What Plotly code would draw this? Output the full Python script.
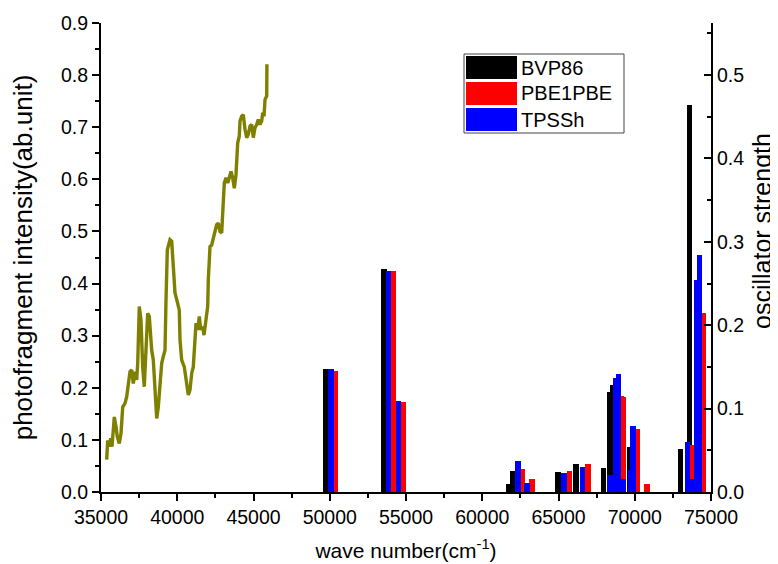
import plotly.graph_objects as go

# ---- photofragment spectrum (left axis) ----
spec_x = [35374, 35439, 35544, 35636, 35721, 35807, 35872, 35984, 36069, 36200,
          36311, 36423, 36574, 36685, 36790, 36902, 37013, 37118, 37230, 37341,
          37407, 37511, 37623, 37734, 37839, 37951, 38062, 38167, 38325, 38430,
          38541, 38653, 38757, 38869, 38980, 39085, 39197, 39262, 39348, 39525,
          39636, 39741, 39852, 40003, 40134, 40180, 40292, 40462, 40574, 40725,
          40836, 40948, 41052, 41118, 41230, 41341, 41446, 41538, 41669, 41754,
          41866, 41997, 42036, 42148, 42259, 42364, 42475, 42587, 42692, 42803,
          42915, 42980, 43085, 43197, 43308, 43413, 43525, 43636, 43741, 43852,
          43964, 44069, 44115, 44226, 44331, 44443, 44554, 44659, 44770, 44882,
          44987, 45098, 45210, 45315, 45426, 45538, 45603, 45689, 45754, 45866,
          45880]
spec_y = [0.062, 0.099, 0.087, 0.103, 0.087, 0.125, 0.144, 0.125, 0.106, 0.093,
          0.112, 0.163, 0.170, 0.183, 0.202, 0.231, 0.234, 0.208, 0.231, 0.215,
          0.247, 0.356, 0.330, 0.240, 0.202, 0.266, 0.343, 0.337, 0.272, 0.253,
          0.208, 0.141, 0.163, 0.215, 0.247, 0.260, 0.272, 0.368, 0.465, 0.484,
          0.481, 0.433, 0.382, 0.365, 0.349, 0.292, 0.253, 0.240, 0.221, 0.186,
          0.196, 0.228, 0.240, 0.285, 0.324, 0.311, 0.337, 0.311, 0.317, 0.301,
          0.330, 0.356, 0.407, 0.471, 0.474, 0.484, 0.500, 0.513, 0.516, 0.500,
          0.497, 0.535, 0.593, 0.603, 0.593, 0.603, 0.615, 0.603, 0.583, 0.609,
          0.670, 0.683, 0.712, 0.721, 0.724, 0.696, 0.680, 0.686, 0.702, 0.705,
          0.680, 0.699, 0.705, 0.715, 0.705, 0.712, 0.728, 0.721, 0.753, 0.760,
          0.821]

# ---- calculated oscillator strengths (right axis) ----
bvp86_x = [49750, 53550, 61750, 61970, 64960, 66140, 67940, 68370, 68530, 69685, 73010, 73600]
bvp86_f = [0.147, 0.267, 0.010, 0.025, 0.0237, 0.0333, 0.0288, 0.120, 0.128, 0.054, 0.052, 0.4636]

pbe_x = [50350, 54150, 54830, 62610, 63270, 65710, 66940, 69120, 69270, 70190, 70810, 73690, 74520]
pbe_f = [0.1454, 0.2655, 0.1074, 0.027, 0.015, 0.0249, 0.033, 0.115, 0.1135, 0.075, 0.0098, 0.056, 0.2145]

tpssh_x = [50080, 53850, 54520, 62340, 62950, 65360, 66560, 68390, 68750, 68940, 69260, 69750,
           69890, 73470, 73690, 74040, 74240]
tpssh_f = [0.147, 0.265, 0.1087, 0.037, 0.011, 0.0228, 0.0305, 0.020, 0.137, 0.141, 0.016, 0.026,
           0.079, 0.060, 0.015, 0.2545, 0.284]

series_names = ["BVP86", "PBE1PBE", "TPSSh"]
series_colors = ["#000000", "#FF0000", "#0000FF"]
x_ticks = [35000, 40000, 45000, 50000, 55000, 60000, 65000, 70000, 75000]

BAR_W = 360
FONT = "Liberation Sans, Arial, sans-serif"

fig = go.Figure()
fig.add_trace(go.Scatter(x=spec_x, y=spec_y, mode="lines",
                         line=dict(color="#808000", width=3.4), showlegend=False, yaxis="y"))
for xs, fs, name, col in [(bvp86_x, bvp86_f, series_names[0], series_colors[0]),
                          (pbe_x, pbe_f, series_names[1], series_colors[1]),
                          (tpssh_x, tpssh_f, series_names[2], series_colors[2])]:
    fig.add_trace(go.Bar(x=xs, y=fs, width=[BAR_W] * len(xs), name=name,
                         marker=dict(color=col, line=dict(width=0)),
                         yaxis="y2", showlegend=False))

# the page body has an 8 px margin, so the figure is drawn 8 px in from the corner
OFF = 8
PAGE_W, PAGE_H = 778, 564
W, H = PAGE_W - OFF, PAGE_H - OFF
# plot area in page pixels: x 101..711, y 23..492
L, T = 101 - OFF, 23 - OFF
R = W - (711 - OFF)
B = H - (492 - OFF)
PW, PH = W - L - R, H - T - B

def px(xp):  # page pixel -> paper x
    return (xp - OFF - L) / PW

def py(yp):  # page pixel -> paper y
    return (H - B - (yp - OFF)) / PH

shapes = [dict(type="rect", xref="paper", yref="paper", x0=px(464), x1=px(624),
               y0=py(133), y1=py(54), line=dict(color="#444444", width=1), fillcolor="white",
               layer="above")]
annotations = []
rows = [(56, 79), (82, 105), (108, 131)]
for (y0, y1), name, col in zip(rows, series_names, series_colors):
    shapes.append(dict(type="rect", xref="paper", yref="paper", x0=px(466), x1=px(517),
                       y0=py(y1), y1=py(y0), line=dict(width=0), fillcolor=col, layer="above"))
    annotations.append(dict(xref="paper", yref="paper", x=px(519), y=py((y0 + y1) / 2),
                            text=name, showarrow=False, xanchor="left", yanchor="middle",
                            font=dict(family=FONT, size=20, color="black")))
# right axis title
annotations.append(dict(xref="paper", yref="paper", x=px(762), y=py(231),
                        text="oscillator strength", textangle=-90, showarrow=False,
                        xanchor="center", yanchor="middle",
                        font=dict(family=FONT, size=25, color="black")))

fig.update_layout(
    width=W, height=H,
    margin=dict(l=L, r=R, t=T, b=B),
    paper_bgcolor="white", plot_bgcolor="white",
    barmode="overlay", bargap=0,
    font=dict(family=FONT, size=20, color="black"),
    shapes=shapes, annotations=annotations,
    xaxis=dict(range=[35000, 75000], tickvals=x_ticks, ticktext=[str(v) for v in x_ticks],
               automargin=False,
               showgrid=False, zeroline=False, showline=True, linecolor="black", linewidth=2,
               ticks="outside", ticklen=7, tickwidth=2, tickcolor="black",
               minor=dict(dtick=2500, ticks="outside", ticklen=4, tickwidth=1.5, tickcolor="black"),
               tickfont=dict(size=19.5),
               title=dict(text="wave number(cm<sup>-1</sup>)", font=dict(size=21), standoff=16)),
    yaxis=dict(range=[0, 0.9], dtick=0.1, tickformat=".1f", automargin=False,
               showgrid=False, zeroline=False, showline=True, linecolor="black", linewidth=2,
               ticks="outside", ticklen=7, tickwidth=2, tickcolor="black",
               minor=dict(dtick=0.05, ticks="outside", ticklen=4, tickwidth=1.5, tickcolor="black"),
               tickfont=dict(size=19.5),
               title=dict(text="photofragment intensity(ab.unit)", font=dict(size=26), standoff=24)),
    yaxis2=dict(range=[0, 0.5625], dtick=0.1, tickformat=".1f", overlaying="y", side="right",
                automargin=False,
                showgrid=False, zeroline=False, showline=True, linecolor="black", linewidth=2,
                ticks="inside", ticklen=7, tickwidth=2, tickcolor="black",
                minor=dict(dtick=0.05, ticks="inside", ticklen=4, tickwidth=1.5, tickcolor="black"),
                tickfont=dict(size=19.5)),
)

fig.write_html("out.html")
